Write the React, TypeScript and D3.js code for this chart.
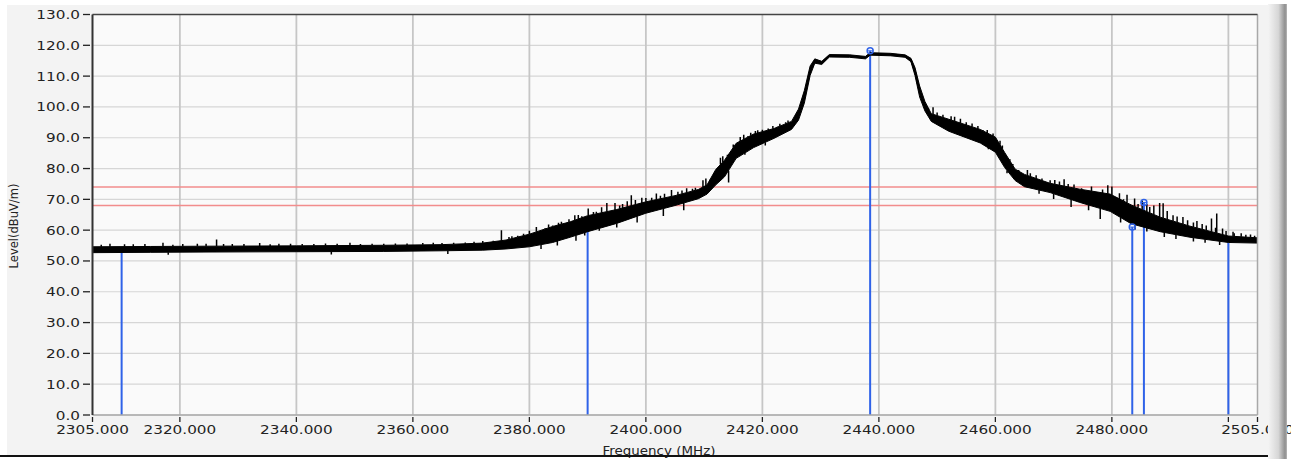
import React from "react";
import * as d3 from "d3";

// ---- data ----
const envFreq = [2305, 2315, 2325, 2340, 2355, 2365, 2372, 2376, 2380, 2384, 2387, 2390, 2395, 2400, 2405, 2409, 2410.5, 2412, 2413.5, 2415.5, 2418.5, 2422, 2425, 2426.2, 2427.2, 2428.2, 2429, 2430.2, 2431.5, 2435, 2437.7, 2438.5, 2442, 2444.5, 2445.5, 2446.2, 2447, 2447.9, 2449, 2452, 2457.4, 2460, 2461.6, 2463.4, 2465, 2469.4, 2474.5, 2479.7, 2483.3, 2488.3, 2493.4, 2500, 2505];
const envLow = [52.7, 52.8, 52.9, 53.0, 53.1, 53.3, 53.5, 53.9, 54.6, 56.0, 57.7, 59.5, 62.2, 65.5, 68.0, 70.2, 71.7, 74.7, 77.3, 83.3, 86.8, 89.8, 92.7, 95.7, 101.2, 110.2, 114.2, 113.8, 116.2, 116.1, 115.6, 116.8, 116.6, 116.1, 114.7, 110.2, 103.2, 98.7, 95.3, 92.1, 88.3, 85.3, 80.3, 76.1, 74.1, 72.2, 69.0, 66.1, 62.1, 59.5, 57.7, 56.0, 55.8];
const envHigh = [54.6, 54.7, 54.8, 54.9, 55.1, 55.3, 55.8, 56.8, 58.7, 61.2, 62.7, 64.7, 66.7, 69.2, 71.2, 73.2, 74.7, 79.7, 82.7, 88.2, 91.2, 93.0, 95.3, 99.3, 105.3, 113.3, 115.6, 114.8, 117.0, 116.9, 116.4, 117.6, 117.4, 116.9, 115.8, 112.8, 106.8, 101.8, 97.8, 96.0, 92.7, 90.2, 85.2, 79.8, 78.1, 75.2, 73.3, 71.7, 68.2, 64.2, 61.3, 58.1, 57.5];

const spikeFreq = [
  2306.5, 2308, 2310.5, 2312, 2314, 2317.1, 2318.8, 2320.5, 2323, 2324.5, 2326.3, 2327.5, 2329, 2331, 2333.7, 2335.5, 2337, 2339, 2341, 2343, 2345, 2347, 2349.2, 2351, 2353, 2355, 2357, 2359, 2361.7, 2363.5, 2365, 2367, 2369, 2370.5, 2372, 2373.8, 2375.2, 2376.5, 2377, 2378,
  2379, 2380, 2381.2, 2382.7, 2383.3, 2384, 2385, 2385.5, 2386.8, 2387.8, 2388.4, 2389, 2390.1, 2391, 2391.5, 2392.4, 2393.3, 2394.7, 2395.5, 2396, 2396.8, 2397.5, 2398.2, 2399.3, 2400, 2401, 2401.8, 2402.5, 2403.2, 2404.4, 2405.5, 2406.2, 2407, 2408, 2408.5, 2409.8, 2410.3, 2411,
  2412.8, 2413.2, 2414, 2415, 2416.2, 2416.8, 2417.5, 2418, 2418.8, 2419.2, 2420, 2421, 2421.8, 2422.6, 2423, 2424, 2424.4, 2425.3,
  2448.5, 2449.3, 2450, 2451, 2452.4, 2453, 2454, 2455, 2456, 2457, 2457.9, 2458.6, 2459.6, 2460.8, 2461.2, 2462.5, 2463, 2464, 2465.5, 2466, 2467, 2468, 2469.4, 2470.2, 2471, 2471.8, 2472.5, 2473.5, 2474.8, 2475.7, 2476.5, 2477.6, 2478.4, 2479.3, 2480, 2480.8, 2481.3, 2482, 2482.6, 2483.9, 2484.5, 2485.2, 2486, 2486.5, 2487.2, 2488.2, 2488.8, 2489.5, 2490.5, 2491.2, 2492.2, 2493, 2494, 2494.6, 2495.5, 2496.2, 2497.1, 2497.8, 2498, 2499, 2499.6, 2500.8, 2501, 2502.2, 2503, 2503.8, 2504.5,
];
const spikeTop = [
  55.3, 55.6, 55.4, 55.4, 55.5, 55.9, 55.3, 55.5, 55.6, 55.6, 57.0, 55.5, 55.5, 55.5, 55.8, 55.4, 55.6, 55.6, 55.5, 55.5, 55.7, 55.6, 55.9, 55.5, 55.6, 55.6, 55.7, 55.7, 55.8, 55.9, 55.8, 55.9, 56.0, 56.2, 56.5, 56.6, 60.0, 57.8, 58.0, 58.2,
  58.8, 59.8, 61.0, 60.6, 61.8, 61.5, 62.4, 62.7, 63.5, 64.8, 64.9, 64.5, 67.0, 65.9, 66.0, 67.4, 68.8, 68.8, 68.0, 68.5, 69.4, 71.3, 69.8, 70.5, 70.4, 70.5, 71.9, 71.2, 71.8, 73.0, 72.5, 72.9, 73.6, 73.4, 73.8, 76.2, 76.8, 76.2,
  83.5, 84.0, 84.5, 87.8, 90.2, 91.0, 90.5, 91.6, 92.2, 92.4, 92.6, 93.0, 93.8, 93.6, 94.5, 95.0, 95.6, 96.3,
  99.0, 99.9, 98.2, 97.5, 97.0, 96.8, 96.2, 95.0, 94.6, 93.8, 92.4, 92.5, 91.4, 89.0, 87.5, 83.0, 81.5, 79.5, 79.5, 78.5, 77.8, 76.8, 76.2, 76.3, 75.8, 76.5, 75.0, 74.8, 73.6, 73.0, 74.2, 72.4, 73.2, 74.6, 74.2, 70.8, 72.0, 70.0, 71.5, 70.3, 68.5, 69.6, 68.5, 67.5, 68.0, 68.8, 68.7, 66.2, 64.8, 64.4, 64.3, 63.2, 62.5, 63.0, 62.0, 61.5, 63.8, 60.8, 65.4, 60.5, 59.7, 59.5, 59.0, 59.0, 58.5, 58.6, 58.2,
];

const dipFreq = [2318, 2346, 2366, 2382, 2384.8, 2388, 2389.5, 2392, 2395, 2398.5, 2403, 2406.5, 2414.2, 2417, 2420.5, 2454.5, 2458.8, 2462, 2467.5, 2470, 2473, 2476, 2478, 2481.5, 2484, 2486, 2489, 2491, 2494, 2496, 2498.5];
const dipBottom = [52.0, 52.1, 52.3, 53.9, 55.0, 56.6, 58.3, 59.8, 60.9, 62.5, 64.6, 66.5, 75.5, 84.5, 87.5, 90.5, 86.3, 78.5, 71.8, 70.1, 67.5, 66.5, 63.6, 62.5, 60.2, 59.6, 57.8, 57.1, 56.3, 55.9, 55.2];

const markerFreq = [2310, 2390, 2438.5, 2483.5, 2485.5, 2500];
const markerLevel = [53.5, 60.0, 118.2, 61.0, 69.0, 56.0];
const markerHasCircle = [false, false, true, true, true, false];

const limitLevels = [74, 68];

const yTickValues = [0, 10, 20, 30, 40, 50, 60, 70, 80, 90, 100, 110, 120, 130];
const xTickValues = [2305, 2320, 2340, 2360, 2380, 2400, 2420, 2440, 2460, 2480, 2500, 2505];
const xTickLabels = ["2305.000", "2320.000", "2340.000", "2360.000", "2380.000", "2400.000", "2420.000", "2440.000", "2460.000", "2480.000", "", "2505.000"];
const xGridValues = [2320, 2340, 2360, 2380, 2400, 2420, 2440, 2460, 2480, 2500];

// ---- layout ----
const W = 1291;
const H = 459;
const L = 92.5, R = 1257.5, T = 14.5, B = 415;
const FONT = "'DejaVu Sans', Verdana, sans-serif";
const SX = 1.22;

const x = d3.scaleLinear().domain([2305, 2505]).range([L, R]);
const y = d3.scaleLinear().domain([0, 130]).range([B, T]);

const interp = (arr: number[], f: number) => {
  const i = d3.bisectLeft(envFreq, f);
  if (i <= 0) return arr[0];
  if (i >= envFreq.length) return arr[envFreq.length - 1];
  const t = (f - envFreq[i - 1]) / (envFreq[i] - envFreq[i - 1]);
  return arr[i - 1] + t * (arr[i] - arr[i - 1]);
};

function SText(props: { x: number; y: number; anchor?: string; size?: number; sx?: number; children: React.ReactNode; fill?: string }) {
  const { x: px, y: py, anchor = "middle", size = 12.5, sx = SX, fill = "#222" } = props;
  return (
    <text transform={`translate(${px},${py}) scale(${sx},1)`} textAnchor={anchor as any} fontFamily={FONT} fontSize={size} fill={fill}>
      {props.children}
    </text>
  );
}

export default function App() {
  const band = d3
    .area<number>()
    .x((_, i) => x(envFreq[i]))
    .y0((_, i) => y(envLow[i]))
    .y1((_, i) => y(envHigh[i]))(envFreq) as string;
  const midLine = d3
    .line<number>()
    .x((_, i) => x(envFreq[i]))
    .y((_, i) => y((envLow[i] + envHigh[i]) / 2))(envFreq) as string;

  const blue = "#2f62e8";
  const red = "#f28c8c";

  return (
    <svg width={W} height={H} style={{ position: "absolute", left: 0, top: 0, background: "#ffffff" }}>
      <defs>
        <linearGradient id="sidebar" x1="0" x2="1" y1="0" y2="0">
          <stop offset="0" stopColor="#f4f4f4" />
          <stop offset="0.55" stopColor="#d6d6d6" />
          <stop offset="0.9" stopColor="#8e8e8e" />
          <stop offset="1" stopColor="#b8b8b8" />
        </linearGradient>
        <clipPath id="plotclip">
          <rect x={L} y={T} width={R - L} height={B - T} />
        </clipPath>
      </defs>
      {/* outer panel */}
      <rect x={7} y={5} width={1268} height={450} fill="#f3f3f3" />
      {/* plot area */}
      <rect x={L} y={T} width={R - L} height={B - T} fill="#fafafa" />

      {/* horizontal grid */}
      {yTickValues.map((v) => (
        <line key={"hg" + v} x1={L} x2={R} y1={y(v)} y2={y(v)} stroke="#d6d6d6" strokeWidth={1.2} />
      ))}
      {/* vertical grid */}
      {xGridValues.map((v) => (
        <line key={"vg" + v} x1={x(v)} x2={x(v)} y1={T} y2={B} stroke="#c6c6c6" strokeWidth={1.8} />
      ))}

      {/* limit lines */}
      {limitLevels.map((v) => (
        <line key={"lim" + v} x1={L} x2={R} y1={y(v)} y2={y(v)} stroke={red} strokeWidth={1.5} />
      ))}

      {/* markers */}
      {markerFreq.map((f, i) => (
        <line key={"mk" + i} x1={x(f)} x2={x(f)} y1={B} y2={y(markerLevel[i])} stroke={blue} strokeWidth={2} />
      ))}

      {/* trace */}
      <g clipPath="url(#plotclip)">
        <path d={band} fill="#000" stroke="#000" strokeWidth={1} strokeLinejoin="round" />
        <path d={midLine} fill="none" stroke="#000" strokeWidth={1.8} />
        {spikeFreq.map((f, i) => (
          <line key={"sp" + i} x1={x(f)} x2={x(f)} y1={y(spikeTop[i])} y2={y(interp(envHigh, f))} stroke="#000" strokeWidth={1.5} />
        ))}
        {dipFreq.map((f, i) => (
          <line key={"dp" + i} x1={x(f)} x2={x(f)} y1={y(dipBottom[i])} y2={y(interp(envLow, f))} stroke="#000" strokeWidth={1.5} />
        ))}
      </g>

      {/* marker circles */}
      {markerFreq.map((f, i) =>
        markerHasCircle[i] ? (
          <g key={"mc" + i}>
            <circle cx={x(f)} cy={y(markerLevel[i])} r={3} fill="none" stroke={blue} strokeWidth={1.5} />
            <line x1={x(f) - 3} x2={x(f) + 3} y1={y(markerLevel[i])} y2={y(markerLevel[i])} stroke={blue} strokeWidth={1} />
          </g>
        ) : null
      )}

      {/* frame */}
      <line x1={R} x2={R} y1={T} y2={B} stroke="#a8a8a8" strokeWidth={1.5} />
      <line x1={L} x2={R} y1={B} y2={B} stroke="#a8a8a8" strokeWidth={1.5} />
      <line x1={L} x2={R} y1={T} y2={T} stroke="#444" strokeWidth={1.5} />
      <line x1={L} x2={L} y1={T} y2={B} stroke="#333" strokeWidth={2} />

      {/* y ticks and labels */}
      {yTickValues.map((v) => (
        <g key={"yt" + v}>
          <line x1={83} x2={90} y1={y(v)} y2={y(v)} stroke="#222" strokeWidth={1.3} />
          <SText x={80} y={y(v) + 4.5} anchor="end">
            {v.toFixed(1)}
          </SText>
        </g>
      ))}

      {/* x ticks and labels */}
      {xTickValues.map((v, i) => (
        <g key={"xt" + v}>
          <line x1={x(v)} x2={x(v)} y1={B + 2} y2={B + 7} stroke="#222" strokeWidth={1.3} />
          {xTickLabels[i] ? (
            <SText x={x(v)} y={434}>
              {xTickLabels[i]}
            </SText>
          ) : null}
        </g>
      ))}

      {/* axis titles */}
      <SText x={659} y={455} size={12} sx={1.12}>
        Frequency (MHz)
      </SText>
      <text transform="translate(18,226) rotate(-90)" textAnchor="middle" fontFamily={FONT} fontSize={11.5} fill="#222">
        Level(dBuV/m)
      </text>

      {/* bottom edge */}
      <rect x={0} y={455} width={1272} height={2} fill="#111" />
      {/* right side bar */}
      <rect x={1268} y={4} width={19} height={455} fill="url(#sidebar)" />
    </svg>
  );
}
